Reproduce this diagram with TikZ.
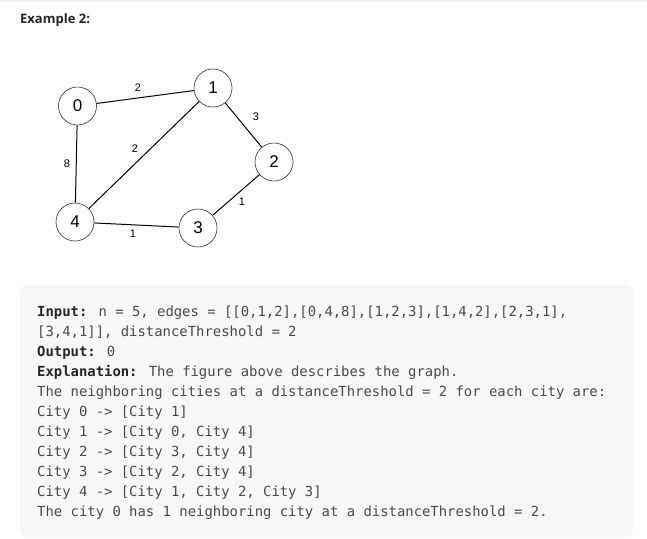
\documentclass[tikz,border=0pt]{standalone}
\usepackage{fontspec}
\setmainfont{Liberation Sans}
\newfontfamily\titlefont{Open Sans}
\newfontfamily\codefont{DejaVu Sans Mono}
\definecolor{boxbg}{HTML}{F7F7F7}
\definecolor{codetext}{HTML}{4A4A4A}
\definecolor{codebold}{HTML}{262626}
\definecolor{titlecol}{HTML}{262626}
\definecolor{topline}{HTML}{F0F0F0}
\begin{document}
\begin{tikzpicture}[x=1pt,y=-1pt,
  city/.style={circle,draw=black!80,line width=0.6pt,minimum size=38pt,inner sep=0pt,font=\fontsize{17}{17}\selectfont},
  wlabel/.style={font=\fontsize{11}{11}\selectfont,inner sep=0pt},
  edge/.style={line width=1pt,black},
  codeline/.style={anchor=base west,inner sep=0pt,text=codetext,font=\codefont\fontsize{13.9}{14}\selectfont}]
\useasboundingbox (0,0) rectangle (647,538);
\fill[white] (0,0) rectangle (647,538);
\fill[topline] (0,0) rectangle (647,2);
\node[anchor=base west,inner sep=0pt,text=titlecol,font=\titlefont\bfseries\fontsize{13}{13}\selectfont] (title) at (20,23) {Example 2:};
% graph
\node[city] (n0) at (77.5,106) {0};
\node[city] (n1) at (213,88) {1};
\node[city] (n2) at (274,162) {2};
\node[city] (n3) at (198,228) {3};
\node[city] (n4) at (75,222) {4};
\draw[edge] (n0) -- (n1);
\draw[edge] (n0) -- (n4);
\draw[edge] (n1) -- (n2);
\draw[edge] (n1) -- (n4);
\draw[edge] (n2) -- (n3);
\draw[edge] (n4) -- (n3);
\node[wlabel] (w01) at (138,88) {2};
\node[wlabel] (w12) at (256,117) {3};
\node[wlabel] (w14) at (135,149) {2};
\node[wlabel] (w04) at (67,164) {8};
\node[wlabel] (w23) at (242,202) {1};
\node[wlabel] (w43) at (133,234) {1};
% code box
\fill[boxbg,rounded corners=8pt] (20,285) rectangle (633,537);
\node[codeline] (l1) at (37,316) {\textcolor{codebold}{\bfseries Input:} n = 5, edges = [[0,1,2],[0,4,8],[1,2,3],[1,4,2],[2,3,1],};
\node[codeline] (l2) at (37,336) {[3,4,1]], distanceThreshold = 2};
\node[codeline] (l3) at (37,356) {\textcolor{codebold}{\bfseries Output:} 0};
\node[codeline] (l4) at (37,376) {\textcolor{codebold}{\bfseries Explanation:} The figure above describes the graph.};
\node[codeline] (l5) at (37,396) {The neighboring cities at a distanceThreshold = 2 for each city are:};
\node[codeline] (l6) at (37,416) {City 0 -> [City 1]};
\node[codeline] (l7) at (37,436) {City 1 -> [City 0, City 4]};
\node[codeline] (l8) at (37,456) {City 2 -> [City 3, City 4]};
\node[codeline] (l9) at (37,476) {City 3 -> [City 2, City 4]};
\node[codeline] (l10) at (37,496) {City 4 -> [City 1, City 2, City 3]};
\node[codeline] (l11) at (37,516) {The city 0 has 1 neighboring city at a distanceThreshold = 2.};
\end{tikzpicture}
\end{document}
